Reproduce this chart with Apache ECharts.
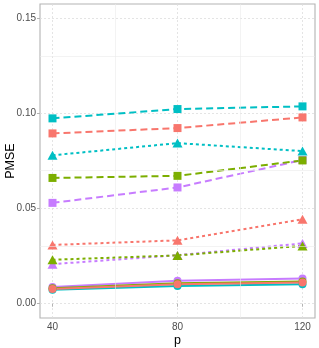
<!DOCTYPE html>
<html>
<head>
<meta charset="utf-8">
<script src="https://cdn.jsdelivr.net/npm/echarts@6/dist/echarts.min.js"></script>
<style>
html,body{margin:0;padding:0;background:#fff;}
#chart{width:319px;height:348px;}
</style>
</head>
<body>
<div id="chart"></div>
<script>
const pValues = [40, 80, 120];
const xTicks = [40, 80, 120];
const yTicks = [0, 0.05, 0.10, 0.15];
const xMinor = [60, 100];
const yMinor = [0.025, 0.075, 0.125];

// dashed lines, square markers
const purpleSq = [0.0530, 0.0611, 0.0755];
const cyanSq   = [0.0974, 0.1023, 0.1037];
const greenSq  = [0.0661, 0.0672, 0.0753];
const redSq    = [0.0895, 0.0923, 0.0979];
// dotted lines, triangle markers
const purpleTri = [0.0208, 0.0255, 0.0317];
const cyanTri   = [0.0780, 0.0844, 0.0802];
const greenTri  = [0.0231, 0.0254, 0.0304];
const redTri    = [0.0309, 0.0333, 0.0444];
// solid lines, circle markers
const purpleC = [0.0088, 0.0121, 0.0132];
const cyanC   = [0.0074, 0.0093, 0.0102];
const greenC  = [0.0081, 0.0107, 0.0117];
const redC    = [0.0078, 0.0102, 0.0112];

const COL = {red:'#F8766D', green:'#7CAE00', cyan:'#00BFC4', purple:'#C77CFF'};

const groups = [
  {name:'purple-sq', color:COL.purple, vals:purpleSq, sym:'rect', size:8, dash:[7,4]},
  {name:'cyan-sq', color:COL.cyan, vals:cyanSq, sym:'rect', size:8, dash:[7,4]},
  {name:'green-sq', color:COL.green, vals:greenSq, sym:'rect', size:8, dash:[7,4]},
  {name:'red-sq', color:COL.red, vals:redSq, sym:'rect', size:8, dash:[7,4]},
  {name:'purple-tri', color:COL.purple, vals:purpleTri, sym:'triangle', size:[10,9], dash:[3,3]},
  {name:'cyan-tri', color:COL.cyan, vals:cyanTri, sym:'triangle', size:[10,9], dash:[3,3]},
  {name:'green-tri', color:COL.green, vals:greenTri, sym:'triangle', size:[10,9], dash:[3,3]},
  {name:'red-tri', color:COL.red, vals:redTri, sym:'triangle', size:[10,9], dash:[3,3]},
  {name:'purple-c', color:COL.purple, vals:purpleC, sym:'circle', size:8, dash:'solid'},
  {name:'cyan-c', color:COL.cyan, vals:cyanC, sym:'circle', size:8, dash:'solid'},
  {name:'green-c', color:COL.green, vals:greenC, sym:'circle', size:8, dash:'solid'},
  {name:'red-c', color:COL.red, vals:redC, sym:'circle', size:8, dash:'solid'}
];

const series = [];
// minor grid lines via markLine
series.push({
  type:'line', data:[], silent:true, z:0,
  markLine:{
    silent:true, symbol:'none', label:{show:false}, animation:false,
    lineStyle:{color:'#EBEBEB', width:0.6, type:'solid'},
    data: xMinor.map(v=>({xAxis:v})).concat(yMinor.map(v=>({yAxis:v})))
  }
});
groups.forEach(g=>{
  const d = pValues.map((p,i)=>[p, g.vals[i]]);
  series.push({
    name:g.name, type:'line', data:d, symbol:'none', z:2,
    lineStyle:{color:g.color, width:2, type:g.dash},
    animation:false
  });
});
groups.forEach(g=>{
  const d = pValues.map((p,i)=>[p, g.vals[i]]);
  series.push({
    name:g.name, type:'scatter', data:d, symbol:g.sym, symbolSize:g.size, z:3,
    itemStyle:{color:g.color, opacity:1},
    animation:false
  });
});

const chart = echarts.init(document.getElementById('chart'), null, {renderer:'canvas'});
chart.setOption({
  backgroundColor:'#fff',
  animation:false,
  grid:{left:40, right:4, top:4, bottom:30, show:true, borderColor:'#B3B3B3', borderWidth:1.1, containLabel:false, outerBoundsMode:'none'},
  xAxis:{
    type:'value', min:36, max:124,
    name:'p', nameLocation:'middle', nameGap:16, nameMoveOverlap:false,
    nameTextStyle:{color:'#000', fontSize:12.5, fontFamily:'Liberation Sans', verticalAlign:'top'},
    axisLine:{show:false},
    axisTick:{show:true, length:3, lineStyle:{color:'#B3B3B3', width:1}, customValues:xTicks},
    axisLabel:{color:'#4D4D4D', fontSize:10, fontFamily:'Liberation Sans', margin:4, customValues:xTicks, formatter:v=>String(v)},
    splitLine:{show:true, lineStyle:{color:'#DEDEDE', width:0.8, type:[2,2]}}
  },
  yAxis:{
    type:'value', min:-0.0075, max:0.1575,
    name:'PMSE', nameLocation:'middle', nameGap:23, nameRotate:90, nameMoveOverlap:false,
    nameTextStyle:{color:'#000', fontSize:12.5, fontFamily:'Liberation Sans'},
    axisLine:{show:false},
    axisTick:{show:true, length:3, lineStyle:{color:'#B3B3B3', width:1}, customValues:yTicks},
    axisLabel:{color:'#4D4D4D', fontSize:10, fontFamily:'Liberation Sans', margin:4, customValues:yTicks, formatter:v=>v.toFixed(2)},
    splitLine:{show:true, lineStyle:{color:'#DEDEDE', width:0.8, type:[2,2]}}
  },
  series:series
});
</script>
</body>
</html>
